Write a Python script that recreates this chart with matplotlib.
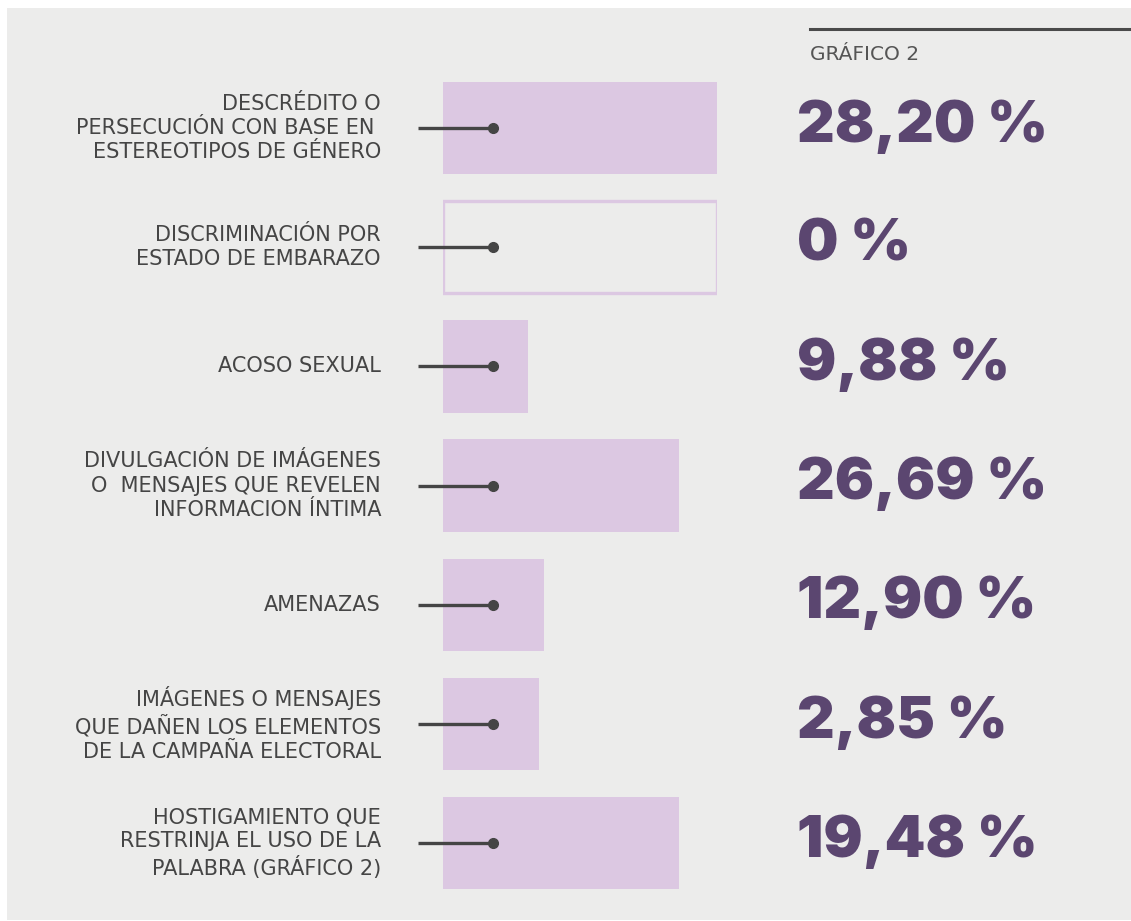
import matplotlib.pyplot as plt
from matplotlib.patches import Rectangle
from matplotlib.lines import Line2D

# categorias y valores
categorias = [
    "DESCRÉDITO O\nPERSECUCIÓN CON BASE EN \nESTEREOTIPOS DE GÉNERO",
    "DISCRIMINACIÓN POR\nESTADO DE EMBARAZO",
    "ACOSO SEXUAL",
    "DIVULGACIÓN DE IMÁGENES\nO  MENSAJES QUE REVELEN\nINFORMACION ÍNTIMA",
    "AMENAZAS",
    "IMÁGENES O MENSAJES\nQUE DAÑEN LOS ELEMENTOS\nDE LA CAMPAÑA ELECTORAL",
    "HOSTIGAMIENTO QUE\nRESTRINJA EL USO DE LA\nPALABRA (GRÁFICO 2)",
]
valores = ["28,20 %", "0 %", "9,88 %", "26,69 %", "12,90 %", "2,85 %", "19,48 %"]
# largo de cada barra tal como aparece en la infografia (escala 0-100)
largo_barra = [100, 100, 31, 86, 37, 35, 86]
vacia = [False, True, False, False, False, False, False]

W, H = 1131, 921
fondo = "#ECECEB"
lila = "#DCC8E2"
morado = "#5B4670"
gris = "#454545"

fig = plt.figure(figsize=(W / 100, H / 100), dpi=100, facecolor="white")
fig.add_artist(Rectangle((7 / W, 1 - 920 / H), 1, (920 - 8) / H,
                         transform=fig.transFigure, facecolor=fondo,
                         edgecolor="none", zorder=0))

# eje de las barras
x0, x1 = 443, 717
yc0, paso = 128, 119.2
top = yc0 - paso / 2
bot = yc0 + 6 * paso + paso / 2
ax = fig.add_axes([x0 / W, 1 - bot / H, (x1 - x0) / W, (bot - top) / H])
ax.set_xlim(0, 100)
ax.set_ylim(6.5, -0.5)
ax.axis("off")

pos = list(range(len(categorias)))
llenas = [l if not v else 0 for l, v in zip(largo_barra, vacia)]
ax.barh(pos, llenas, height=0.775, color=lila, edgecolor="none", zorder=1)
for i, (l, v) in enumerate(zip(largo_barra, vacia)):
    if v:
        ax.barh(i, l, height=0.775, fill=False, edgecolor=lila, linewidth=2.4, zorder=1)

ux = (x1 - x0) / 100.0
for i in pos:
    ax.plot([(418 - x0) / ux, (493 - x0) / ux], [i, i], color=gris, lw=2.4,
            solid_capstyle="butt", clip_on=False, zorder=3)
    ax.plot([(493 - x0) / ux], [i], "o", color=gris, ms=7, clip_on=False, zorder=3)
    ax.text((381 - x0) / ux, i, categorias[i], ha="right", va="center",
            fontsize=15, color=gris, family="DejaVu Sans", linespacing=1.26,
            clip_on=False)
    # las cifras van un poco por encima del centro de la fila
    ax.text((797 - x0) / ux, i - 0.065, valores[i], ha="left",
            va="center_baseline", fontsize=42, color=morado, family="Inter",
            fontweight="black", clip_on=False)

# encabezado
fig.add_artist(Line2D([810 / W, 1], [1 - 29 / H] * 2, color="#4a4a4a", lw=2.2))
fig.text(810 / W, 1 - 54 / H, "GRÁFICO 2", ha="left", va="center",
         fontsize=14.5, color="#555555", family="DejaVu Sans")

fig.savefig("out.png", dpi=100, facecolor="white")
